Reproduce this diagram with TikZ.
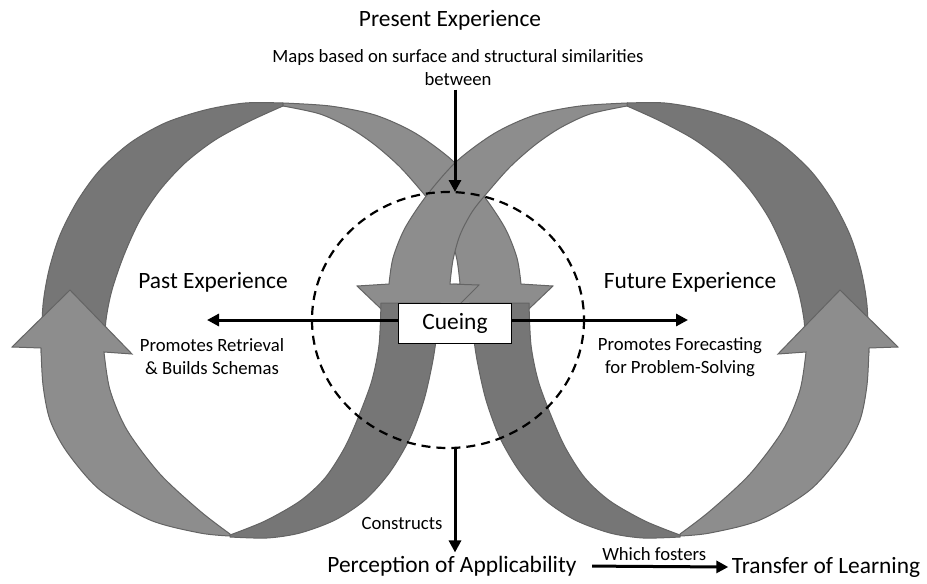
\documentclass[tikz,border=0pt]{standalone}
\usepackage{fontspec}
\setmainfont{Carlito}
\usetikzlibrary{arrows.meta,positioning}

\definecolor{bandlight}{RGB}{141,141,141}
\definecolor{banddark}{RGB}{118,118,118}
\definecolor{bandedge}{RGB}{100,100,100}

\begin{document}
\begin{tikzpicture}[x=1pt,y=-1pt,>={Triangle[length=12pt,width=12pt]},
  big/.style={font=\fontsize{23.4}{26}\selectfont},
  small/.style={font=\fontsize{18.7}{23}\selectfont,align=center},
  darkband/.style={fill=banddark,draw=bandedge,line width=1pt},
  lightband/.style={fill=bandlight,draw=bandedge,line width=1pt},
  lefthalf/.style={},
  righthalf/.style={xshift=910,xscale=-1},
  link/.style={line width=3pt}]
	\useasboundingbox (0,0) rectangle (927,584);

	% back of the ribbons
	\foreach \side in {lefthalf,righthalf}
	  \filldraw[darkband,\side]
	    plot[smooth] coordinates {(283,103) (245,103) (205,110) (165,123) (130,143) (100,170) (78,200) (60,235) (49,270) (43,305) (41,352)}
	    -- plot[smooth] coordinates {(104,352) (106,320) (112,290) (124,255) (140,220) (160,190) (185,163) (215,140) (250,121) (283,106)}
	    -- cycle;
	\foreach \side in {lefthalf,righthalf}
	  \filldraw[lightband,\side]
	    plot[smooth] coordinates {(41,348) (43,385) (50,420) (67,452) (100,490) (150,520) (200,533) (230,536)}
	    -- plot[smooth] coordinates {(230,534) (200,511) (160,474) (127,430) (110,390) (104,352)}
	    -- (132,354) -- (70,290) -- (12,347) -- cycle;

	% crossing bands, right one in front
	\foreach \side in {lefthalf,righthalf}
	  \filldraw[lightband,\side]
	    plot[smooth] coordinates {(283,103) (330,106) (375,115) (415,133) (453,161) (483,195) (505,228) (517,258) (521,284)}
	    -- (553,286) -- (491,345) -- (431,285) --
	    plot[smooth] coordinates {(460,284) (457,260) (450,235) (438,212) (423,193) (400,167) (375,145) (350,128) (320,114) (283,106)}
	    -- cycle;

	% lower bands
	\foreach \side in {lefthalf,righthalf}
	  \filldraw[darkband,\side]
	    plot[smooth] coordinates {(230,537) (267,538) (300,533) (335,520) (365,500) (390,472) (410,438) (424,400) (433,360) (438,325) (440,303)}
	    -- plot[smooth] coordinates {(381,303) (379,345) (372,380) (360,413) (345,447) (325,478) (300,501) (265,521) (230,535)}
	    -- cycle;

	\draw[line width=2.2pt,dash pattern=on 9pt off 6pt] (448,320) ellipse [x radius=136,y radius=128];

	\node[big]   (present)  at (450,20)  {Present Experience};
	\node[small] (maps)     at (458,68)  {Maps based on surface and structural similarities\\between};
	\node[big]   (past)     at (213,282) {Past Experience};
	\node[small] (retrieve) at (212,357) {Promotes Retrieval\\\& Builds Schemas};
	\node[big]   (future)   at (690,282) {Future Experience};
	\node[small] (forecast) at (680,357) {Promotes Forecasting\\for Problem-Solving};
	\node[small] (constr)   at (402,523) {Constructs};
	\node[big]   (percep)   at (452,566) {Perception of Applicability};
	\node[big]   (transfer) at (826,567) {Transfer of Learning};

	\coordinate (ctop)    at (455,192);
	\coordinate (cbot)    at (455,448);
	\coordinate (pastend) at (207,320);
	\coordinate (futend)  at (688,320);

	\draw[link,->] (maps.south -| ctop) -- (ctop);
	\draw[link,<->] (pastend) -- (futend);
	\draw[link,->] (cbot) -- (cbot |- percep.north);
	\draw[link,->,shorten <=12pt] (percep.east) -- (transfer.west)
	  node[midway,above=1pt,small] {Which fosters};

	\node[big,draw,fill=white,line width=0.8pt,minimum width=113,minimum height=40] (cue) at (455,323) {Cueing};
\end{tikzpicture}
\end{document}
